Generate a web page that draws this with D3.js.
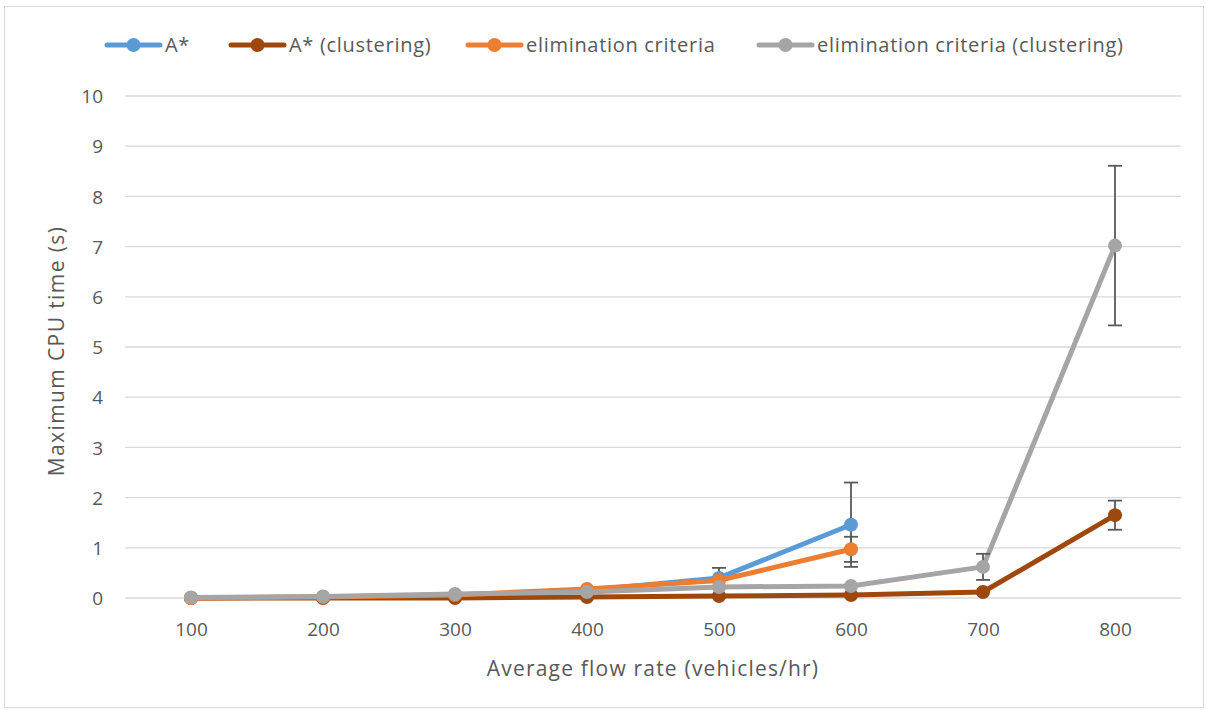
<!DOCTYPE html>
<html>
<head>
<meta charset="utf-8">
<script src="https://cdn.jsdelivr.net/npm/d3@7"></script>
<style>
  html, body { margin: 0; padding: 0; background: #fff; }
  svg { display: block; }
</style>
</head>
<body>
<svg id="chart" width="1208" height="713"></svg>
<script>
// Flow rates (vehicles/hr) on the x axis
const categories = ["100", "200", "300", "400", "500", "600", "700", "800"];
const yTicks = [0, 1, 2, 3, 4, 5, 6, 7, 8, 9, 10];

// Maximum CPU time (s) per method; null = no run at that flow rate
const seriesNames = ["A*", "A* (clustering)", "elimination criteria", "elimination criteria (clustering)"];
const seriesColors = ["#5b9bd5", "#9e480e", "#ed7d31", "#a5a5a5"];
const aStar          = [0.00, 0.02, 0.05, 0.15, 0.40, 1.46, null, null];
const aStarClust     = [0.00, 0.00, 0.00, 0.02, 0.04, 0.06, 0.12, 1.65];
const elim           = [0.00, 0.02, 0.06, 0.18, 0.35, 0.97, null, null];
const elimClust      = [0.01, 0.03, 0.08, 0.12, 0.22, 0.24, 0.62, 7.02];

// Error bar half-widths (s); null = no error bar shown
const aStarErr       = [null, null, null, null, 0.20, 0.84, null, null];
const aStarClustErr  = [null, null, null, null, null, null, null, 0.29];
const elimErr        = [null, null, null, null, null, 0.25, null, null];
const elimClustErr   = [null, null, null, null, null, null, 0.26, 1.59];

const seriesValues = [aStar, aStarClust, elim, elimClust];
const seriesErrors = [aStarErr, aStarClustErr, elimErr, elimClustErr];

const FONT = "'Open Sans', 'DejaVu Sans', sans-serif";
const TEXT = "#595959";

const svg = d3.select("#chart");
const W = 1208, H = 713;
const plot = { left: 125, right: 1181, top: 96, bottom: 598 };

// outer chart border
svg.append("rect")
  .attr("x", 4.5).attr("y", 6.5)
  .attr("width", W - 9).attr("height", H - 12)
  .attr("fill", "#fff").attr("stroke", "#d9d9d9").attr("stroke-width", 1);

const x = d3.scalePoint().domain(categories).range([plot.left, plot.right]).padding(0.5);
const y = d3.scaleLinear().domain([0, 10]).range([plot.bottom, plot.top]);

// horizontal gridlines
svg.append("g").selectAll("line").data(yTicks).join("line")
  .attr("x1", plot.left).attr("x2", plot.right)
  .attr("y1", d => y(d)).attr("y2", d => y(d))
  .attr("stroke", "#d9d9d9").attr("stroke-width", 1.3);

// y axis labels
const yAxis = d3.axisLeft(y).tickValues(yTicks).tickSize(0).tickPadding(0);
const gy = svg.append("g").attr("transform", `translate(${plot.left - 22},0)`).call(yAxis);
gy.select(".domain").remove();
gy.selectAll("text")
  .attr("fill", TEXT).attr("font-family", FONT)
  .attr("font-size", 19).attr("dy", "0.35em");

// x axis labels
const xAxis = d3.axisBottom(x).tickSize(0).tickPadding(0);
const gx = svg.append("g").attr("transform", `translate(0,${plot.bottom + 24})`).call(xAxis);
gx.select(".domain").remove();
gx.selectAll("text")
  .attr("fill", TEXT).attr("font-family", FONT)
  .attr("font-size", 19).attr("dy", "0.71em");

// axis titles
svg.append("text")
  .attr("x", (plot.left + plot.right) / 2).attr("y", 676)
  .attr("text-anchor", "middle").attr("fill", TEXT)
  .attr("font-family", FONT).attr("font-size", 21).attr("letter-spacing", 1.2)
  .text("Average flow rate (vehicles/hr)");
svg.append("text")
  .attr("transform", `translate(64,${(plot.top + plot.bottom) / 2 + 4}) rotate(-90)`)
  .attr("text-anchor", "middle").attr("fill", TEXT)
  .attr("font-family", FONT).attr("font-size", 21).attr("letter-spacing", 1.4)
  .text("Maximum CPU time (s)");

const line = d3.line()
  .defined(d => d.v !== null)
  .x(d => x(d.c)).y(d => y(d.v));

seriesValues.forEach((vals, i) => {
  const pts = vals.map((v, j) => ({ c: categories[j], v, e: seriesErrors[i][j] }));
  const g = svg.append("g");
  g.append("path").datum(pts)
    .attr("d", line).attr("fill", "none")
    .attr("stroke", seriesColors[i]).attr("stroke-width", 5)
    .attr("stroke-linejoin", "round").attr("stroke-linecap", "round");

  // error bars
  const eb = g.append("g").selectAll("g").data(pts.filter(d => d.v !== null && d.e !== null)).join("g");
  eb.append("line")
    .attr("x1", d => x(d.c)).attr("x2", d => x(d.c))
    .attr("y1", d => y(d.v + d.e)).attr("y2", d => y(Math.max(0, d.v - d.e)))
    .attr("stroke", TEXT).attr("stroke-width", 1.8);
  [1, -1].forEach(s => {
    eb.append("line")
      .attr("x1", d => x(d.c) - 7).attr("x2", d => x(d.c) + 7)
      .attr("y1", d => y(d.v + s * d.e)).attr("y2", d => y(d.v + s * d.e))
      .attr("stroke", TEXT).attr("stroke-width", 1.8);
  });

  g.append("g").selectAll("circle").data(pts.filter(d => d.v !== null)).join("circle")
    .attr("cx", d => x(d.c)).attr("cy", d => y(d.v)).attr("r", 7)
    .attr("fill", seriesColors[i]);
});

// legend
const legendX = [107, 231, 468, 759];
const legend = svg.append("g");
seriesNames.forEach((name, i) => {
  const lx = legendX[i], ly = 45;
  legend.append("line")
    .attr("x1", lx).attr("x2", lx + 53).attr("y1", ly).attr("y2", ly)
    .attr("stroke", seriesColors[i]).attr("stroke-width", 5).attr("stroke-linecap", "round");
  legend.append("circle").attr("cx", lx + 26.5).attr("cy", ly).attr("r", 7).attr("fill", seriesColors[i]);
  legend.append("text")
    .attr("x", lx + 58).attr("y", ly).attr("dy", "0.35em")
    .attr("fill", TEXT)
    .attr("font-family", FONT)
    .attr("font-size", 20).attr("letter-spacing", 0.7)
    .text(name);
});
</script>
</body>
</html>
